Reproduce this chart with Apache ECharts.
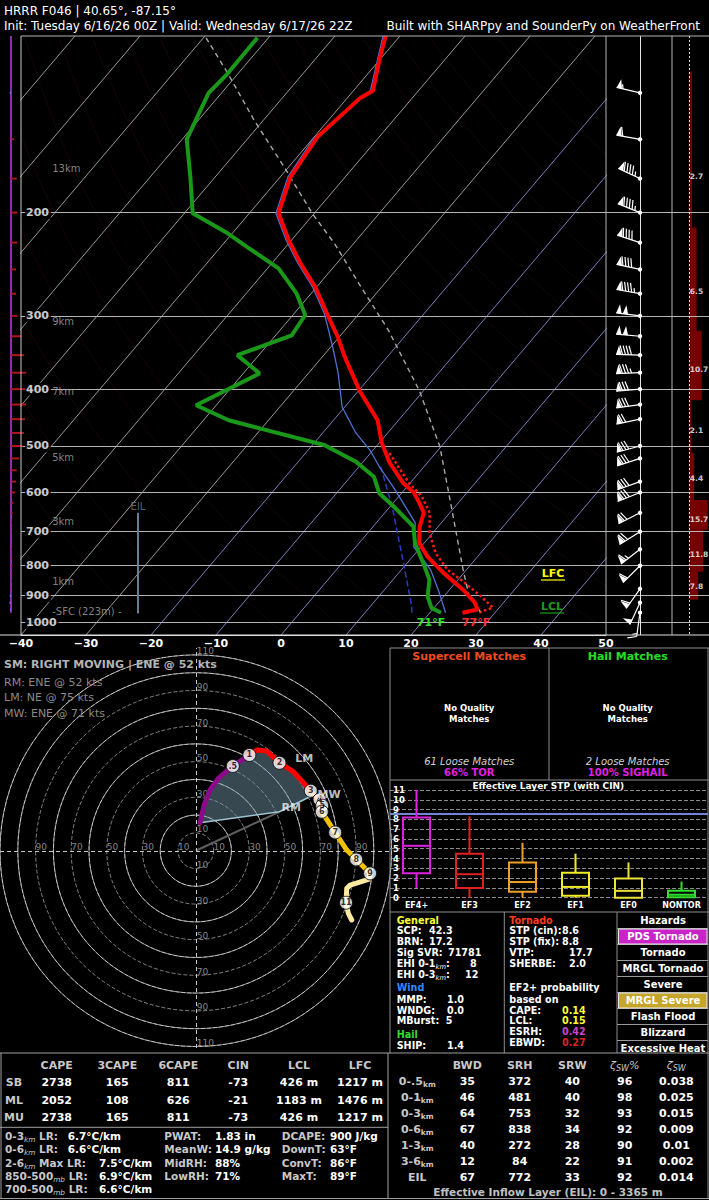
<!DOCTYPE html>
<html>
<head>
<meta charset="utf-8">
<title>HRRR F046 Sounding</title>
<script src="https://cdn.jsdelivr.net/npm/echarts@6/dist/echarts.min.js"></script>
<style>
html,body{margin:0;padding:0;background:#000;}
#chart{width:709px;height:1200px;}
</style>
</head>
<body>
<div id="chart"></div>
<script>
// ================= DATA =================
const pressureLevels = [200, 300, 400, 500, 600, 700, 800, 900, 1000];
const isothermTemps = [-120,-110,-100,-90,-80,-70,-60,-50,-40,-30,-20,-10,0,10,20,30,40];
const dryAdiabatThetas = [250,260,270,280,290,300,310,320,330,340,350,360,370,380,390,400,410,420,430,440,450,460];
const adiabatP = [1050,1000,950,900,850,800,750,700,650,600,550,500,450,400,350,300,250,200,150,100];

const tempP = [100, 110, 124, 127.5, 149, 174, 200.6, 223, 244, 268, 297, 326, 352, 402, 452, 494, 534, 578, 601, 625, 650, 687, 731, 772, 822, 879, 925, 950, 962];
const tempC = [-62.2, -60.0, -57.0, -58.0, -59.5, -58.4, -55.5, -50.4, -45.6, -40.2, -35.0, -30.2, -26.6, -19.9, -13.2, -9.6, -5.8, -1.1, 1.9, 4.0, 6.0, 7.2, 9.2, 12.3, 16.8, 22.1, 25.6, 26.9, 25.0];
const dewP = [100.7, 116, 125, 150, 174, 200.6, 217, 229, 249, 275, 299, 324, 350, 376, 426, 452, 467, 498, 532, 564, 602, 638, 686, 732, 792, 845, 902, 944, 962];
const dewC = [-81.7, -81.6, -82.0, -79.3, -73.8, -68.7, -60.7, -55.9, -48.3, -42.2, -38.1, -37.5, -43.3, -37.5, -43.1, -36.1, -30.1, -18.2, -11.1, -6.4, -3.4, 1.0, 6.2, 8.6, 12.5, 15.6, 17.5, 19.6, 21.7];
const wetbulbP = [100, 124, 150, 174, 200.6, 223, 244, 268, 297, 317.5, 343, 376, 429, 475, 508, 543, 587, 625, 676, 743, 813, 889, 962];
const wetbulbC = [-62.6, -57.4, -59.9, -58.8, -55.9, -50.8, -46.0, -40.6, -35.4, -32.5, -29.2, -25.4, -20.4, -14.9, -10.5, -6.8, -2.1, 1.5, 6.0, 8.9, 14.5, 18.8, 22.4];
const parcelP = [100.7, 116, 139.5, 167.5, 201, 226, 264.5, 317.5, 402, 501, 634, 813, 902, 950, 962];
const parcelC = [-89.6, -81.5, -71.3, -60.6, -50.2, -42.9, -33.9, -23.3, -10.7, -0.2, 9.4, 19.5, 23.9, 27.1, 27.8];
const virtTempP = [514, 578, 610, 650, 703, 760, 813, 855, 902, 943, 962];
const virtTempC = [-7.1, -0.2, 3.6, 6.9, 9.5, 13.0, 17.1, 21.4, 25.7, 29.0, 27.5];
const downdraftP = [542, 634, 791, 939, 962];
const downdraftC = [-6.7, 0.3, 9.4, 16.4, 17.2];

const omegaP = [125,150,175,200,225,250,275,300,325,350,375,400,425,450,475,500,525,550,575,600,625,650,675,700,750,775,800,825,850,875,900,925,950];
const omegaV = [-1.2,3,5.7,6.3,6.3,5,5,6.3,10.3,13,15,14,15,14,13,11.7,8.3,5.7,5,4,2.3,1.7,0.8,0.5,0.8,1.2,1.5,1.3,1,0.6,-1.2,-1.5,-1];

const windP   = [125,150,175,200,225,250,275,300,325,350,375,400,425,450,500,525,575,600,650,700,750,800,876,925,962];
const windDir = [283,280,295,292,288,282,280,277,275,272,268,265,262,258,255,252,250,248,243,238,232,225,215,205,188];
const windSpd = [55,60,95,95,90,90,95,100,100,90,85,80,80,70,80,80,80,80,70,70,65,60,60,50,15];

const layerTopP = [115, 212, 318, 418, 514, 618, 695, 819];
const layerBotP = [212, 318, 418, 514, 618, 695, 819, 914];
const layerVal  = [2.7, 6.5, 10.7, 2.1, 4.4, 15.7, 11.8, 7.8];
const layerLabelP = [173.5, 273, 371, 471, 569, 668, 766, 868];

const heightLabels = ['13km','9km','7km','5km','3km','1km','-SFC (223m) -'];
const heightLabelP = [168, 307, 404, 524, 672, 852, 957];
const eilP = [650, 965];

const hodoH = [0, 0.1, 0.2, 0.3, 0.5, 1.0, 1.3, 1.6, 2.0, 2.5, 3.0, 3.37, 4.0, 5.0, 6.0, 7.0, 7.6, 8.0, 9.0, 9.5, 10.0, 10.3, 11.0, 11.5, 12.0];
const hodoU = [2.4, 4.7, 8.0, 12.7, 20.8, 30.1, 34.3, 39.9, 47.0, 54.8, 64.6, 66.3, 69.5, 71.0, 70.8, 78.3, 84.8, 90.1, 97.9, 97.0, 86.7, 84.8, 84.4, 85.7, 87.6];
const hodoV = [15.7, 25.7, 34.1, 40.7, 47.6, 53.8, 56.6, 56.0, 49.4, 44.4, 33.7, 31.5, 28.8, 25.3, 21.9, 10.3, 0.4, -4.9, -12.7, -16.1, -19.3, -21.1, -29.2, -35.2, -38.9];
const hodoSegLo = [0, 1, 3, 6, 9];
const hodoSegHi = [1, 3, 6, 9, 12];
const hodoSegColor = ['#8a0a8a', '#ff0000', '#ff8c00', '#f2c200', '#fbeaa0'];
const hodoMarkH = [0.5, 1, 2, 3, 4, 5, 6, 7, 8, 9, 11];
const hodoMarkLabel = ['.5','1','2','3','4','5','6','7','8','9','11'];
const eilTopKm = 3.37;
const stormLabels = ['RM','LM','MW'];
const stormU = [47.0, 53.0, 65.6];
const stormV = [21.9, 53.0, 27.2];
const ringLabelH = [10, 30, 50, 70, 90];
const ringLabelV = [10, 30, 50, 70, 90, 110];

const stpCats = ['EF4+','EF3','EF2','EF1','EF0','NONTOR'];
const stpMin = [1.0, 0, 0, 0, 0, 0];
const stpQ1  = [2.5, 1.0, 0.6, 0.2, 0, 0.05];
const stpMed = [5.3, 2.4, 1.6, 1.1, 0.7, 0.3];
const stpQ3  = [8.2, 4.5, 3.6, 2.55, 1.95, 0.7];
const stpMax = [11.0, 8.3, 5.6, 4.5, 3.6, 1.65];
const stpColors = ['#e020e0','#e02020','#f0a028','#f2ec24','#ece23a','#30e030'];
const stpCin = 8.6;

const capeHeaders = ['CAPE','3CAPE','6CAPE','CIN','LCL','LFC'];
const capeRows = ['SB','ML','MU'];
const capeValues = [
  ['2738','165','811','-73','426 m','1217 m'],
  ['2052','108','626','-21','1183 m','1476 m'],
  ['2738','165','811','-73','426 m','1217 m']
];
const lrLabels = [['0-3','km',' LR:'],['0-6','km',' LR:'],['2-6','km',' Max LR:'],['850-500','mb',' LR:'],['700-500','mb',' LR:']];
const lrValues = ['6.7°C/km','6.6°C/km','7.5°C/km','6.9°C/km','6.6°C/km'];
const moistLabels = ['PWAT:','MeanW:','MidRH:','LowRH:'];
const moistValues = ['1.83 in','14.9 g/kg','88%','71%'];
const thermoLabels = ['DCAPE:','DownT:','ConvT:','MaxT:'];
const thermoValues = ['900 J/kg','63°F','86°F','89°F'];

const kinHeaders = ['BWD','SRH','SRW'];
const kinRows = [['0-.5','km'],['0-1','km'],['0-3','km'],['0-6','km'],['1-3','km'],['3-6','km'],['EIL','']];
const kinValues = [
  ['35','372','40','96','0.038'],
  ['46','481','40','98','0.025'],
  ['64','753','32','93','0.015'],
  ['67','838','34','92','0.009'],
  ['40','272','28','90','0.01'],
  ['12','84','22','91','0.002'],
  ['67','772','33','92','0.014']
];

const generalLabels = [['SCP:'],['BRN:'],['Sig SVR:'],['EHI 0-1','km',':'],['EHI 0-3','km',':']];
const generalValues = ['42.3','17.2','71781','8','12'];
const windLabels = ['MMP:','WNDG:','MBurst:'];
const windValues = ['1.0','0.0','5'];
const hailLabels = ['SHIP:'];
const hailValues = ['1.4'];
const tornLabels = ['STP (cin):','STP (fix):','VTP:','SHERBE:'];
const tornValues = ['8.6','8.8','17.7','2.0'];
const probLabels = ['CAPE:','LCL:','ESRH:','EBWD:'];
const probValues = ['0.14','0.15','0.42','0.27'];
const probColors = ['#ffff33','#ffff33','#cc44cc','#dd2020'];
const hazardNames = ['PDS Tornado','Tornado','MRGL Tornado','Severe','MRGL Severe','Flash Flood','Blizzard','Excessive Heat'];
const hazardFill = ['#c824c8', null, null, null, '#c5a52a', null, null, null];

// ================= LAYOUT / HELPERS =================
const F = '"DejaVu Sans", "Liberation Sans", sans-serif';
const SKEW = 33.3, PBOT = 1050, PTOP = 100;
function skewX(T, p) { return T + SKEW * Math.log(PBOT / p); }
function minusFmt(v) { return v < 0 ? '\u2212' + Math.abs(v) : String(v); }

const G = [];
function txt(x, y, text, o) {
  o = o || {};
  G.push({ type: 'text', silent: true, z: 100, style: {
    x: x, y: y, text: text, fill: o.color || '#fff',
    fontSize: o.size || 11, fontWeight: o.weight || 'normal', fontStyle: o.style || 'normal',
    fontFamily: F, align: o.align || 'left', verticalAlign: o.va || 'middle'
  }});
}
function gline(x1, y1, x2, y2, stroke, w, dash) {
  G.push({ type: 'line', silent: true, z: 95, shape: { x1: x1, y1: y1, x2: x2, y2: y2 },
    style: { stroke: stroke, lineWidth: w || 1, lineDash: dash || null } });
}
function gbox(x, y, w, h, fill, stroke) {
  G.push({ type: 'rect', silent: true, z: 96, shape: { x: x, y: y, width: w, height: h },
    style: { fill: fill, stroke: stroke || null, lineWidth: 1 } });
}
function richStyles(size, mainColor) {
  return {
    m: { fontSize: size, fontWeight: 'bold', fontFamily: F, fill: mainColor, lineHeight: 14, verticalAlign: 'middle' },
    s: { fontSize: size * 0.7, fontWeight: 'normal', fontStyle: 'italic', fontFamily: F, fill: mainColor, lineHeight: 14, verticalAlign: 'bottom' }
  };
}
function rtxt(x, y, parts, size, color, align) {
  const keys = ['m', 's', 'm'];
  const text = parts.map((p, i) => p === '' ? '' : '{' + keys[i] + '|' + p + '}').join('');
  G.push({ type: 'text', silent: true, z: 100, style: {
    x: x, y: y, text: text, rich: richStyles(size, color), align: align || 'left', verticalAlign: 'middle'
  }});
}

function hiddenX(gi, min, max) { return { gridIndex: gi, type: 'value', min: min, max: max, show: false }; }
function hiddenY(gi, min, max) { return { gridIndex: gi, type: 'value', min: min, max: max, show: false }; }
function logY(gi) { return { gridIndex: gi, type: 'log', logBase: 10, min: PTOP, max: PBOT, inverse: true, show: false }; }
function markLineOnly(xi, yi, data, style, z) {
  return { type: 'line', xAxisIndex: xi, yAxisIndex: yi, data: [], symbol: 'none', silent: true, z: z || 2,
    lineStyle: { width: 0 },
    markLine: { silent: true, symbol: ['none', 'none'], label: { show: false }, animation: false,
      lineStyle: style, data: data } };
}

// ================= SERIES =================
const S = [];

// isotherms
isothermTemps.forEach(T => {
  S.push({ type: 'line', xAxisIndex: 0, yAxisIndex: 0, symbol: 'none', silent: true, z: 1, clip: true,
    data: [[skewX(T, PBOT), PBOT], [skewX(T, PTOP), PTOP]],
    lineStyle: { color: T >= -20 ? '#8a8ad0' : '#aaaaaa', width: 0.9 } });
});
// dry adiabats (very faint)
dryAdiabatThetas.forEach(th => {
  S.push({ type: 'line', xAxisIndex: 0, yAxisIndex: 0, symbol: 'none', silent: true, z: 1, clip: true, smooth: true,
    data: adiabatP.map(p => [skewX(th * Math.pow(p / 1000, 0.2857) - 273.15, p), p]),
    lineStyle: { color: 'rgba(140,30,30,0.2)', width: 0.8 } });
});
// pressure lines
S.push(markLineOnly(4, 4, pressureLevels.map(p => ({ yAxis: p })), { color: '#b4b4b4', width: 1, type: 'solid' }, 2));

// profiles
function prof(P, C, style, z) {
  return { type: 'line', xAxisIndex: 0, yAxisIndex: 0, symbol: 'none', silent: true, z: z, clip: true,
    data: P.map((p, i) => [skewX(C[i], p), p]), lineStyle: style };
}
S.push(prof(virtTempP, virtTempC, { color: '#ff1a1a', width: 2.5, type: 'dotted' }, 6));
S.push(prof(downdraftP, downdraftC, { color: '#2a3cc0', width: 1.5, type: 'dashed' }, 6));
S.push(prof(parcelP, parcelC, { color: '#a8a8a8', width: 1.4, type: [5, 4] }, 7));
S.push(prof(wetbulbP, wetbulbC, { color: '#4d72d2', width: 1.3 }, 8));
S.push(prof(dewP, dewC, { color: '#1a981a', width: 4 }, 9));
S.push(prof(tempP, tempC, { color: '#ff0000', width: 4 }, 10));

// pressure labels
S.push({ type: 'scatter', xAxisIndex: 0, yAxisIndex: 0, symbolSize: 0, silent: true, z: 20, clip: false,
  data: pressureLevels.map(p => [-40, p]),
  label: { show: true, position: 'right', distance: 4, formatter: d => d.value[1], color: '#fff',
    fontWeight: 'bold', fontSize: 11, fontFamily: F, backgroundColor: '#000', padding: [1, 2, 1, 1] } });
// height labels
S.push({ type: 'scatter', xAxisIndex: 0, yAxisIndex: 0, symbolSize: 0, silent: true, z: 20, clip: false,
  data: heightLabelP.map((p, i) => [-35.2, p, heightLabels[i]]),
  label: { show: true, position: 'right', distance: 0, formatter: d => d.value[2], color: '#a4a4a4',
    fontSize: 10, fontFamily: F } });
// EIL bracket
S.push({ type: 'line', xAxisIndex: 0, yAxisIndex: 0, symbol: 'none', silent: true, z: 11,
  data: eilP.map(p => [-22, p]), lineStyle: { color: '#6a7d8e', width: 2 } });
S.push({ type: 'scatter', xAxisIndex: 0, yAxisIndex: 0, symbolSize: 0, silent: true, z: 20,
  data: [[-22, eilP[0]]],
  label: { show: true, position: 'top', distance: 1, formatter: 'EIL', color: '#6a7d8e', fontSize: 10, fontFamily: F } });

// omega strip
S.push({ type: 'custom', xAxisIndex: 1, yAxisIndex: 1, silent: true, z: 5,
  data: omegaP.map((p, i) => [omegaV[i], p]),
  renderItem: function (params, api) {
    const v = api.value(0), p = api.value(1);
    const a = api.coord([0, p]), b = api.coord([v, p]);
    return { type: 'line', shape: { x1: a[0], y1: a[1], x2: b[0], y2: b[1] },
      style: { stroke: v >= 0 ? '#b3141e' : '#7272ff', lineWidth: 2 } };
  } });
S.push({ type: 'line', xAxisIndex: 1, yAxisIndex: 1, symbol: 'none', silent: true, z: 4,
  data: [[0, PTOP], [0, 962]], lineStyle: { color: '#8c2fa6', width: 2 } });

// wind barbs
S.push(markLineOnly(2, 2, [{ xAxis: 34 }], { color: '#e6e6e6', width: 1, type: 'solid' }, 3));
S.push({ type: 'custom', xAxisIndex: 2, yAxisIndex: 2, silent: true, z: 12,
  data: windP.map((p, i) => [34, p, windDir[i], windSpd[i]]),
  renderItem: function (params, api) {
    const p = api.value(1), d = api.value(2), s = api.value(3);
    const base = api.coord([34, p]);
    const L = 24, fw = 5.5, fh = 9, sp = 3;
    const r = d * Math.PI / 180;
    const ux = Math.sin(r), uy = -Math.cos(r);
    const px = -uy, py = ux;
    const P = (t, h) => [base[0] + ux * t + px * h, base[1] + uy * t + py * h];
    const ch = [];
    const tip = P(L, 0);
    ch.push({ type: 'line', shape: { x1: base[0], y1: base[1], x2: tip[0], y2: tip[1] }, style: { stroke: '#fff', lineWidth: 1.2 } });
    let spd = Math.round(s / 5) * 5;
    const n50 = Math.floor(spd / 50); spd -= n50 * 50;
    const n10 = Math.floor(spd / 10); spd -= n10 * 10;
    const n5 = spd >= 5 ? 1 : 0;
    let pos = L;
    for (let i = 0; i < n50; i++) {
      ch.push({ type: 'polygon', shape: { points: [P(pos, 0), P(pos - fw / 2, fh), P(pos - fw, 0)] }, style: { fill: '#fff' } });
      pos -= fw + 1;
    }
    if (n50 === 0 && n10 === 0 && n5) pos -= sp;
    for (let i = 0; i < n10; i++) {
      const a = P(pos, 0), b = P(pos + fw / 2, fh);
      ch.push({ type: 'line', shape: { x1: a[0], y1: a[1], x2: b[0], y2: b[1] }, style: { stroke: '#fff', lineWidth: 1.2 } });
      pos -= sp;
    }
    if (n5) {
      const a = P(pos, 0), b = P(pos + fw / 4, fh / 2);
      ch.push({ type: 'line', shape: { x1: a[0], y1: a[1], x2: b[0], y2: b[1] }, style: { stroke: '#fff', lineWidth: 1.2 } });
    }
    ch.push({ type: 'circle', shape: { cx: base[0], cy: base[1], r: 2.2 }, style: { fill: '#fff' } });
    return { type: 'group', children: ch };
  } });

// right column bars
S.push({ type: 'custom', xAxisIndex: 3, yAxisIndex: 3, silent: true, z: 4,
  data: layerTopP.map((t, i) => [layerVal[i], t, layerBotP[i]]),
  renderItem: function (params, api) {
    const a = api.coord([0, api.value(1)]), b = api.coord([api.value(0), api.value(2)]);
    return { type: 'rect', shape: { x: a[0], y: a[1], width: b[0] - a[0], height: b[1] - a[1] }, style: { fill: '#760000' } };
  } });
S.push(markLineOnly(3, 3, [{ xAxis: 0 }], { color: '#e0e0e0', width: 1, type: [2, 2] }, 5));
S.push({ type: 'scatter', xAxisIndex: 3, yAxisIndex: 3, symbolSize: 0, silent: true, z: 20, clip: false,
  data: layerLabelP.map((p, i) => [0, p, layerVal[i]]),
  label: { show: true, position: 'right', distance: 1, formatter: d => d.value[2].toFixed(1), color: '#fff',
    fontWeight: 'bold', fontSize: 7.5, fontFamily: F } });

// ---- hodograph ----
S.push(markLineOnly(5, 5, [{ xAxis: 0 }, { yAxis: 0 }], { color: '#c8c8c8', width: 1, type: [4, 3] }, 2));
const eilIdx = hodoH.indexOf(eilTopKm);
const srhPts = [[stormU[0], stormV[0]]].concat(hodoH.slice(0, eilIdx + 1).map((h, i) => [hodoU[i], hodoV[i]]));
S.push({ type: 'custom', xAxisIndex: 5, yAxisIndex: 5, silent: true, z: 3, data: [[0, 0]],
  renderItem: function (params, api) {
    return { type: 'polygon', shape: { points: srhPts.map(pt => api.coord(pt)) },
      style: { fill: 'rgba(125,160,178,0.45)' } };
  } });
S.push({ type: 'line', xAxisIndex: 5, yAxisIndex: 5, symbol: 'none', silent: true, z: 4,
  data: [[0, 0], [stormU[0], stormV[0]]], lineStyle: { color: '#5e5e5e', width: 2 } });
S.push({ type: 'line', xAxisIndex: 5, yAxisIndex: 5, symbol: 'none', silent: true, z: 5,
  data: [[hodoU[0], hodoV[0]], [stormU[0], stormV[0]], [hodoU[eilIdx], hodoV[eilIdx]]],
  lineStyle: { color: '#9cc4d4', width: 1.6 } });
hodoSegLo.forEach((lo, k) => {
  const hi = hodoSegHi[k];
  const pts = [];
  hodoH.forEach((h, i) => { if (h >= lo && h <= hi) pts.push([hodoU[i], hodoV[i]]); });
  S.push({ type: 'line', xAxisIndex: 5, yAxisIndex: 5, symbol: 'none', silent: true, z: 6,
    data: pts, lineStyle: { color: hodoSegColor[k], width: 5, cap: 'round', join: 'round' } });
});
S.push({ type: 'scatter', xAxisIndex: 5, yAxisIndex: 5, silent: true, z: 8, symbol: 'circle', symbolSize: 13,
  data: hodoMarkH.map((h, i) => { const j = hodoH.indexOf(h); return [hodoU[j], hodoV[j], hodoMarkLabel[i]]; }),
  itemStyle: { color: '#fff', borderColor: '#000', borderWidth: 1 },
  label: { show: true, position: 'inside', formatter: d => d.value[2], color: '#000', fontWeight: 'bold', fontSize: 8, fontFamily: F } });
const stormOffsets = [[2, -4], [5, 2], [5, -8]];
S.push({ type: 'scatter', xAxisIndex: 5, yAxisIndex: 5, silent: true, z: 9, symbolSize: 0,
  data: stormLabels.map((l, i) => ({ value: [stormU[i], stormV[i], l],
    label: { position: [stormOffsets[i][0], stormOffsets[i][1]] } })),
  label: { show: true, formatter: d => d.value[2], color: '#f0f0f0', fontWeight: 'bold', fontSize: 11, fontFamily: F,
    align: 'left', verticalAlign: 'middle' } });
S.push({ type: 'scatter', xAxisIndex: 5, yAxisIndex: 5, silent: true, z: 2, symbolSize: 0, clip: false,
  data: ringLabelH.map(r => [r, 0, r]).concat(ringLabelH.map(r => [-r, 0, r])),
  label: { show: true, position: [0, -3.5], align: 'left', verticalAlign: 'middle', formatter: d => d.value[2],
    color: '#a8a8a8', fontSize: 9, fontFamily: F } });
S.push({ type: 'scatter', xAxisIndex: 5, yAxisIndex: 5, silent: true, z: 2, symbolSize: 0, clip: false,
  data: ringLabelV.map(r => [0, r, r]).concat(ringLabelV.map(r => [0, -r, r])),
  label: { show: true, position: [1, 1], align: 'left', verticalAlign: 'bottom', formatter: d => d.value[2],
    color: '#a8a8a8', fontSize: 9, fontFamily: F } });

// ---- STP box plot ----
S.push({ type: 'custom', xAxisIndex: 6, yAxisIndex: 6, silent: true, z: 6,
  encode: { x: 0, y: [1, 2, 3, 4, 5] },
  data: stpCats.map((c, i) => [i, stpMin[i], stpQ1[i], stpMed[i], stpQ3[i], stpMax[i]]),
  renderItem: function (params, api) {
    const i = api.value(0);
    const x = api.coord([i, 0])[0];
    const y = [1, 2, 3, 4, 5].map(k => api.coord([i, api.value(k)])[1]);
    const hw = 13.5, col = stpColors[i], st = { stroke: col, lineWidth: 2, fill: 'none' };
    return { type: 'group', children: [
      { type: 'rect', shape: { x: x - hw, y: y[3], width: 2 * hw, height: y[1] - y[3] }, style: st },
      { type: 'line', shape: { x1: x - hw, y1: y[2], x2: x + hw, y2: y[2] }, style: st },
      { type: 'line', shape: { x1: x, y1: y[3], x2: x, y2: y[4] }, style: st },
      { type: 'line', shape: { x1: x, y1: y[1], x2: x, y2: y[0] }, style: st }
    ] };
  } });
S.push(markLineOnly(6, 6, [{ yAxis: stpCin }], { color: '#6f86d6', width: 2, type: 'solid' }, 5));

// ================= GRAPHIC TEXT / FRAMES =================
txt(4, 11, 'HRRR F046 | 40.65°, -87.15°', { size: 12 });
txt(4, 26, 'Init: Tuesday 6/16/26 00Z | Valid: Wednesday 6/17/26 22Z', { size: 12 });
txt(700, 26, 'Built with SHARPpy and SounderPy on WeatherFront', { size: 12, align: 'right' });

gline(21, 36, 709, 36, '#b4b4b4', 1);
gline(21, 36, 21, 635, '#c8c8c8', 1);
gline(0, 635, 709, 635, '#e0e0e0', 1);
gline(606, 36, 606, 635, '#b4b4b4', 1);
gline(672, 36, 672, 635, '#b4b4b4', 1);
txt(553, 573, 'LFC', { size: 11, weight: 'bold', color: '#ffff00', align: 'center' });
gline(541, 580, 565, 580, '#ffff00', 1.2);
txt(552, 606, 'LCL', { size: 11, weight: 'bold', color: '#1f9a1f', align: 'center' });
gline(540, 613, 564, 613, '#1f9a1f', 1.2);
txt(431, 622, '71°F', { size: 11, weight: 'bold', color: '#2ee02e', align: 'center' });
txt(476, 622, '77°F', { size: 11, weight: 'bold', color: '#ff3030', align: 'center' });

txt(4, 664.5, 'SM: RIGHT MOVING | ENE @ 52 kts', { size: 11, weight: 'bold', color: '#b4b4b4' });
txt(4, 682.3, 'RM: ENE @ 52 kts', { size: 11, color: '#8a8a8a' });
txt(4, 697.7, 'LM: NE @ 75 kts', { size: 11, color: '#8a8a8a' });
txt(4, 713, 'MW: ENE @ 71 kts', { size: 11, color: '#8a8a8a' });

const fr = '#8c8c8c';
gline(390, 648, 709, 648, fr);
gline(390, 648, 390, 1053, fr);
gline(708, 648, 708, 1199, fr);
gline(549, 648, 549, 780, fr);
gline(390, 780, 709, 780, fr);
gline(390, 912, 709, 912, fr);
gline(504.3, 912, 504.3, 1053, fr);
gline(617, 912, 617, 1053, fr);

txt(469.2, 656.7, 'Supercell Matches', { size: 11, weight: 'bold', color: '#f04a1e', align: 'center' });
txt(627.7, 656.7, 'Hail Matches', { size: 11, weight: 'bold', color: '#22e022', align: 'center' });
[469.2, 627.7].forEach(cx => {
  txt(cx, 707.7, 'No Quality', { size: 8.5, weight: 'bold', align: 'center' });
  txt(cx, 719, 'Matches', { size: 8.5, weight: 'bold', align: 'center' });
});
txt(469.2, 761.7, '61 Loose Matches', { size: 10, style: 'italic', color: '#d0d0d0', align: 'center' });
txt(627.7, 761.7, '2 Loose Matches', { size: 10, style: 'italic', color: '#d0d0d0', align: 'center' });
txt(469.2, 772.7, '66% TOR', { size: 10, weight: 'bold', color: '#e020e0', align: 'center' });
txt(627.7, 772.7, '100% SIGHAIL', { size: 10, weight: 'bold', color: '#e020e0', align: 'center' });
txt(548.3, 786.2, 'Effective Layer STP (with CIN)', { size: 9, weight: 'bold', align: 'center' });

const pf = 9.6;
txt(396.7, 920, 'General', { size: pf, weight: 'bold', color: '#ffff33' });
const genY = [930.7, 941, 952.3, 963.3, 974];
const genVX = [429, 429, 448, 470, 465];
generalLabels.forEach((lab, i) => {
  if (lab.length === 1) txt(396.7, genY[i], lab[0], { size: pf, weight: 'bold' });
  else rtxt(396.7, genY[i], lab, pf, '#fff');
  txt(genVX[i], genY[i], generalValues[i], { size: pf, weight: 'bold' });
});
txt(396.7, 987.7, 'Wind', { size: pf, weight: 'bold', color: '#3388ff' });
const windY = [999.3, 1010.3, 1020.7];
const windVX = [447, 447, 445.7];
windLabels.forEach((l, i) => {
  txt(396.7, windY[i], l, { size: pf, weight: 'bold' });
  txt(windVX[i], windY[i], windValues[i], { size: pf, weight: 'bold' });
});
txt(396.7, 1034.3, 'Hail', { size: pf, weight: 'bold', color: '#33dd33' });
txt(396.7, 1045, hailLabels[0], { size: pf, weight: 'bold' });
txt(447, 1045, hailValues[0], { size: pf, weight: 'bold' });

txt(509.3, 920, 'Tornado', { size: pf, weight: 'bold', color: '#ff3a1a' });
const tornY = [930.7, 941, 952.3, 963.3];
const tornVX = [562, 562, 569, 569];
tornLabels.forEach((l, i) => {
  txt(509.3, tornY[i], l, { size: pf, weight: 'bold' });
  txt(tornVX[i], tornY[i], tornValues[i], { size: pf, weight: 'bold' });
});
txt(509.3, 987.7, 'EF2+ probability', { size: pf, weight: 'bold' });
txt(509.3, 999.3, 'based on', { size: pf, weight: 'bold' });
const probY = [1010.3, 1020.7, 1031.7, 1042.3];
probLabels.forEach((l, i) => {
  txt(509.3, probY[i], l, { size: pf, weight: 'bold' });
  txt(562, probY[i], probValues[i], { size: pf, weight: 'bold', color: probColors[i] });
});

txt(663, 920, 'Hazards', { size: 10, weight: 'bold', align: 'center' });
hazardNames.forEach((h, i) => {
  const top = 928.5 + 16 * i;
  if (hazardFill[i]) gbox(618.5, top + 0.5, 88.5, 15, hazardFill[i], '#e8e8e8');
  gline(617, top, 708, top, '#9a9a9a', 1);
  txt(663, top + 8, h, { size: 10, weight: 'bold', align: 'center' });
});

gline(0, 1053, 709, 1053, '#a0a0a0');
gline(388, 1053, 388, 1199, '#a0a0a0');
gline(0, 1127.3, 388, 1127.3, '#a0a0a0');
gline(0, 1198.5, 709, 1198.5, '#a0a0a0');
gline(1, 1053, 1, 1199, '#a0a0a0');

const capeX = [56.7, 117.3, 178.3, 238.3, 299, 360];
const capeY = [1082.7, 1100, 1117.3];
capeHeaders.forEach((h, i) => txt(capeX[i], 1065.7, h, { size: 11, weight: 'bold', color: '#c8c8c8', align: 'center' }));
capeRows.forEach((r, j) => {
  txt(14, capeY[j], r, { size: 11, weight: 'bold', color: '#c8c8c8', align: 'center' });
  capeValues[j].forEach((v, i) => txt(capeX[i], capeY[j], v, { size: 11, weight: 'bold', align: 'center' }));
});
const lowY = [1135.7, 1149, 1162.7, 1176, 1189.3];
const lrVX = [67.7, 67.7, 99, 99, 99];
lrLabels.forEach((lab, i) => {
  rtxt(5, lowY[i], lab, 10.5, '#c8c8c8');
  txt(lrVX[i], lowY[i], lrValues[i], { size: 10.5, weight: 'bold' });
});
moistLabels.forEach((l, i) => {
  txt(164.3, lowY[i], l, { size: 10.5, weight: 'bold', color: '#c8c8c8' });
  txt(215, lowY[i], moistValues[i], { size: 10.5, weight: 'bold' });
});
thermoLabels.forEach((l, i) => {
  txt(281.7, lowY[i], l, { size: 10.5, weight: 'bold', color: '#c8c8c8' });
  txt(330, lowY[i], thermoValues[i], { size: 10.5, weight: 'bold' });
});

const kinX = [467.3, 519.7, 572.3, 624.7, 676.3];
const kinY = [1081.7, 1097.3, 1113.3, 1129.3, 1145.7, 1161.7, 1177.7];
kinHeaders.forEach((h, i) => txt(kinX[i], 1065.7, h, { size: 11, weight: 'bold', color: '#c8c8c8', align: 'center' }));
const zetaRich = { z: { fontSize: 11, fontFamily: F, fill: '#c8c8c8', lineHeight: 14, fontStyle: 'italic' },
                   s: { fontSize: 8, fontFamily: F, fill: '#c8c8c8', lineHeight: 14, fontStyle: 'italic', verticalAlign: 'bottom' } };
G.push({ type: 'text', silent: true, z: 100, style: { x: kinX[3], y: 1065.7, text: '{z|ζ}{s|SW}{z|%}', align: 'center', verticalAlign: 'middle', rich: zetaRich } });
G.push({ type: 'text', silent: true, z: 100, style: { x: kinX[4], y: 1065.7, text: '{z|ζ}{s|SW}', align: 'center', verticalAlign: 'middle', rich: zetaRich } });
kinRows.forEach((r, j) => {
  if (r.length > 1 && r[1]) {
    G.push({ type: 'text', silent: true, z: 100, style: { x: 417.3, y: kinY[j], text: '{m|' + r[0] + '}{s|' + r[1] + '}', align: 'center', verticalAlign: 'middle',
      rich: { m: { fontSize: 11, fontWeight: 'bold', fontFamily: F, fill: '#c8c8c8', lineHeight: 14 },
              s: { fontSize: 7.5, fontWeight: 'bold', fontFamily: F, fill: '#c8c8c8', lineHeight: 14, verticalAlign: 'bottom' } } } });
  } else {
    txt(417.3, kinY[j], r[0], { size: 11, weight: 'bold', color: '#c8c8c8', align: 'center' });
  }
  kinValues[j].forEach((v, i) => txt(kinX[i], kinY[j], v, { size: 11, weight: 'bold', align: 'center' }));
});
txt(548, 1191.7, 'Effective Inflow Layer (EIL): 0 - 3365 m', { size: 10.5, weight: 'bold', color: '#c0c0c0', align: 'center' });

// ================= OPTION =================
const option = {
  backgroundColor: '#000',
  animation: false,
  grid: [
    { left: 21, top: 36, width: 585, height: 599 },
    { left: 0, top: 36, width: 28, height: 599 },
    { left: 606, top: 36, width: 66, height: 599 },
    { left: 672, top: 36, width: 37, height: 599 },
    { left: 21, top: 36, width: 688, height: 599 },
    { left: 0, top: 648, width: 390, height: 400 },
    { left: 390, top: 790, width: 318, height: 107.7 }
  ],
  xAxis: [
    { gridIndex: 0, type: 'value', min: -40, max: 50, interval: 10,
      axisLine: { show: true, lineStyle: { color: '#e0e0e0', width: 1 } }, axisTick: { show: false }, splitLine: { show: false },
      axisLabel: { color: '#fff', fontWeight: 'bold', fontSize: 11, fontFamily: F, margin: 3, formatter: minusFmt } },
    hiddenX(1, -11, 17),
    hiddenX(2, 0, 66),
    hiddenX(3, -14, 16.8),
    hiddenX(4, 0, 688),
    hiddenX(5, -110, 109.1),
    { gridIndex: 6, type: 'category', data: stpCats, axisLine: { show: false }, axisTick: { show: false },
      axisLabel: { color: '#fff', fontWeight: 'bold', fontSize: 8, fontFamily: F, margin: 4, interval: 0 } }
  ],
  yAxis: [
    logY(0), logY(1), logY(2), logY(3), logY(4),
    hiddenY(5, -110.8, 113.9),
    { gridIndex: 6, type: 'value', min: 0, max: 11, interval: 1, axisLine: { show: false }, axisTick: { show: false },
      axisLabel: { inside: true, color: '#fff', fontWeight: 'bold', fontSize: 8.5, fontFamily: F, margin: 3 },
      splitLine: { show: true, lineStyle: { color: '#8a8a8a', type: 'dashed', width: 1 } } }
  ],
  polar: [
    { center: [195.8, 850.7], radius: 195.8 },
    { center: [195.8, 850.7], radius: 195.8 }
  ],
  angleAxis: [
    { polarIndex: 0, type: 'value', min: 0, max: 360, show: false },
    { polarIndex: 1, type: 'value', min: 0, max: 360, show: false }
  ],
  radiusAxis: [
    { polarIndex: 0, type: 'value', min: 0, max: 110, interval: 10, axisLine: { show: false }, axisTick: { show: false },
      axisLabel: { show: false }, splitLine: { show: true, lineStyle: { color: 'rgba(255,255,255,0.5)', type: 'dashed', width: 1 } } },
    { polarIndex: 1, type: 'value', min: 0, max: 110, interval: 20, axisLine: { show: false }, axisTick: { show: false },
      axisLabel: { show: false }, splitLine: { show: true, lineStyle: { color: 'rgba(255,255,255,0.6)', type: 'solid', width: 1 } } }
  ],
  series: S,
  graphic: G
};

const chart = echarts.init(document.getElementById('chart'), null, { renderer: 'svg', width: 709, height: 1200 });
chart.setOption(option);
</script>
</body>
</html>
